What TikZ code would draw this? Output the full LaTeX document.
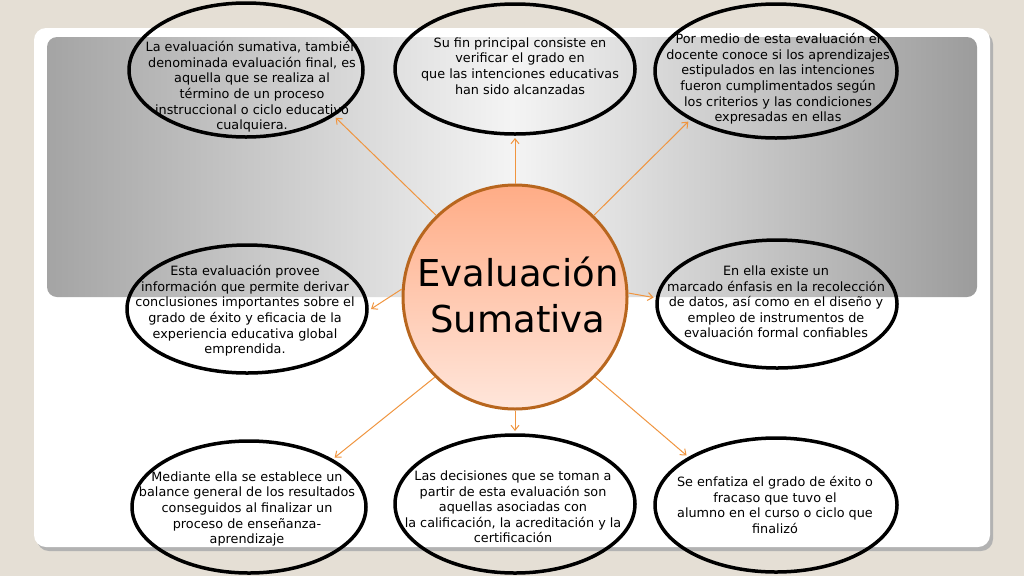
\documentclass[tikz,border=0pt]{standalone}
\usepackage{fontspec}
\setmainfont{DejaVu Sans}
\usetikzlibrary{arrows.meta,shapes.geometric}
\definecolor{bgbeige}{HTML}{E5DFD5}
\definecolor{arrowor}{HTML}{F0953F}
\definecolor{circborder}{HTML}{B8661E}
\definecolor{circtop}{HTML}{FFAC86}
\definecolor{circbot}{HTML}{FFE6DB}
\definecolor{panelside}{HTML}{A4A4A4}
\definecolor{panelmid}{HTML}{F4F4F4}
\begin{document}
\begin{tikzpicture}[x=1pt,y=-1pt,
  bubble/.style={ellipse, draw=black, line width=3.5pt, inner sep=0pt, outer sep=4pt},
  bubtext/.style={align=center, font=\fontsize{12.8}{15.6}\selectfont, inner sep=0pt},
  conn/.style={draw=arrowor, line width=1pt, -{Straight Barb[length=5pt,width=8pt]}}]
\useasboundingbox (0,0) rectangle (1024,576);
\fill[bgbeige] (0,0) rectangle (1024,576);
\fill[black!30, rounded corners=12pt] (37,32) rectangle (993,551);
\fill[white, rounded corners=12pt] (34,28) rectangle (990,547);
\shade[rounded corners=10pt, left color=panelside, right color=panelside!95!black, middle color=panelmid] (47,37) rectangle (977,297);

% ellipses
\node[bubble, minimum width=234pt, minimum height=134pt] (e1) at (246,70) {};
\node[bubble, minimum width=240pt, minimum height=130pt] (e2) at (515,69) {};
\node[bubble, minimum width=242pt, minimum height=134pt] (e3) at (776,71) {};
\node[bubble, minimum width=240pt, minimum height=128pt] (e4) at (247,309) {};
\node[bubble, minimum width=240pt, minimum height=128pt] (e5) at (777,304) {};
\node[bubble, minimum width=234pt, minimum height=132pt] (e6) at (249,507) {};
\node[bubble, minimum width=240pt, minimum height=138pt] (e7) at (515,504) {};
\node[bubble, minimum width=242pt, minimum height=134pt] (e8) at (776,505) {};

% texts
\node[bubtext] (t1) at (252,87) {La evaluación sumativa, también\\denominada evaluación final, es\\aquella que se realiza al\\término de un proceso\\instruccional o ciclo educativo\\cualquiera.};
\node[bubtext] (t2) at (520,66) {Su fin principal consiste en\\verificar el grado en\\que las intenciones educativas\\han sido alcanzadas};
\node[bubtext] (t3) at (778,79) {Por medio de esta evaluación el\\docente conoce si los aprendizajes\\estipulados en las intenciones\\fueron cumplimentados según\\los criterios y las condiciones\\expresadas en ellas};
\node[bubtext] (t4) at (245,311) {Esta evaluación provee\\información que permite derivar\\conclusiones importantes sobre el\\grado de éxito y eficacia de la\\experiencia educativa global\\emprendida.};
\node[bubtext] (t5) at (776,302) {En ella existe un\\marcado énfasis en la recolección\\de datos, así como en el diseño y\\empleo de instrumentos de\\evaluación formal confiables};
\node[bubtext] (t6) at (247,509) {Mediante ella se establece un\\balance general de los resultados\\conseguidos al finalizar un\\proceso de enseñanza-\\aprendizaje};
\node[bubtext] (t7) at (513,507) {Las decisiones que se toman a\\partir de esta evaluación son\\aquellas asociadas con\\la calificación, la acreditación y la\\certificación};
\node[bubtext] (t8) at (775,505) {Se enfatiza el grado de éxito o\\fracaso que tuvo el\\alumno en el curso o ciclo que\\finalizó};

% center
\node[circle, draw=circborder, line width=3pt, minimum size=224pt, inner sep=0pt, top color=circtop, bottom color=circbot] (c) at (515,297) {};
\node[font=\fontsize{37}{46}\selectfont, align=center, inner sep=0pt] (ct) at (518,295) {Evaluación\\Sumativa};

% connectors
\draw[conn] (c.134) -- (e1.-28);
\draw[conn] (c.90) -- (e2.-90);
\draw[conn] (c.46) -- (e3.210);
\draw[conn] (c.176) -- (e4.0);
\draw[conn] (c.2) -- (e5.177);
\draw[conn] (c.225) -- (e6.30);
\draw[conn] (c.-90) -- (e7.90);
\draw[conn] (c.-45) -- (e8.151);
\end{tikzpicture}
\end{document}
